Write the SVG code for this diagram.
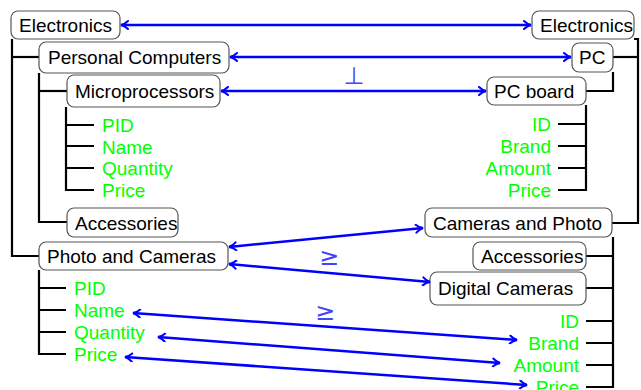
<svg xmlns="http://www.w3.org/2000/svg" width="641" height="390" viewBox="0 0 641 390">
  <defs>
    <marker id="tip" viewBox="0 0 10 10" refX="9" refY="5" markerWidth="10" markerHeight="10" markerUnits="userSpaceOnUse" orient="auto-start-reverse">
      <path d="M2,1 Q5,4 9,5 Q5,6 2,9" fill="none" stroke="#0000ff" stroke-width="2" stroke-linecap="round"/>
    </marker>
  </defs>
  <style>
    .box { fill: #ffffff; stroke: #555555; stroke-width: 1.2; }
    .lbl { font-family: "Liberation Sans", Arial, sans-serif; font-size: 19px; fill: #000000; }
    .attr { font-family: "Liberation Sans", Arial, sans-serif; font-size: 19px; fill: #00ff00; }
    .end { text-anchor: end; }
    .tree { fill: none; stroke: #000000; stroke-width: 2.2; }
    .link { fill: none; stroke: #0000ff; stroke-width: 2.5; marker-start: url(#tip); marker-end: url(#tip); }
    .rel { font-family: "DejaVu Sans", sans-serif; font-size: 24px; fill: #4444ff; text-anchor: middle; }
  </style>
  <rect width="641" height="390" fill="#ffffff"/>

  <!-- tree branches -->
  <g id="tree-lines" class="tree">
    <!-- left schema -->
    <path d="M12,39 V256 H39"/>
    <path d="M12,57 H39"/>
    <path d="M39,73 V222 H67"/>
    <path d="M39,91 H67"/>
    <path d="M66,107 V190 H94"/>
    <path d="M66,125 H94 M66,146 H94 M66,168 H94"/>
    <path d="M39,270 V354 H66"/>
    <path d="M39,288 H66 M39,310 H66 M39,332 H66"/>
    <!-- right schema -->
    <path d="M634,39 H638 V223 H612"/>
    <path d="M613,57 H638"/>
    <path d="M613,72 V91 H586"/>
    <path d="M586,105 V190 H558"/>
    <path d="M586,124 H558 M586,146 H558 M586,168 H558"/>
    <path d="M613,237 V388"/>
    <path d="M586,256 H613 M586,288 H613"/>
    <path d="M586,321 H613 M586,343 H613 M586,365 H613 M586,387 H613"/>
  </g>

  <!-- left schema nodes -->
  <g id="l-electronics"><rect class="box" x="11" y="11" width="109" height="28" rx="7"/><text class="lbl" x="19" y="32">Electronics</text></g>
  <g id="l-personal-computers"><rect class="box" x="39" y="42" width="190" height="31" rx="7"/><text class="lbl" x="48" y="64">Personal Computers</text></g>
  <g id="l-microprocessors"><rect class="box" x="67" y="75" width="153" height="32" rx="7"/><text class="lbl" x="75" y="98">Microprocessors</text></g>
  <g id="l-pid"><text class="attr" x="102" y="132">PID</text></g>
  <g id="l-name"><text class="attr" x="102" y="154">Name</text></g>
  <g id="l-quantity"><text class="attr" x="102" y="175">Quantity</text></g>
  <g id="l-price"><text class="attr" x="102" y="197">Price</text></g>
  <g id="l-accessories"><rect class="box" x="67" y="208" width="111" height="29" rx="7"/><text class="lbl" x="75" y="230">Accessories</text></g>
  <g id="l-photo-and-cameras"><rect class="box" x="39" y="242" width="189" height="28" rx="7"/><text class="lbl" x="47" y="263">Photo and Cameras</text></g>
  <g id="l-pid2"><text class="attr" x="74" y="295">PID</text></g>
  <g id="l-name2"><text class="attr" x="74" y="317">Name</text></g>
  <g id="l-quantity2"><text class="attr" x="74" y="339">Quantity</text></g>
  <g id="l-price2"><text class="attr" x="74" y="361">Price</text></g>

  <!-- right schema nodes -->
  <g id="r-electronics"><rect class="box" x="532" y="11" width="102" height="28" rx="7"/><text class="lbl" x="540" y="32">Electronics</text></g>
  <g id="r-pc"><rect class="box" x="572" y="43" width="41" height="29" rx="7"/><text class="lbl" x="579" y="64">PC</text></g>
  <g id="r-pc-board"><rect class="box" x="487" y="77" width="99" height="28" rx="7"/><text class="lbl" x="494" y="98">PC board</text></g>
  <g id="r-id"><text class="attr end" x="551" y="131">ID</text></g>
  <g id="r-brand"><text class="attr end" x="551" y="153">Brand</text></g>
  <g id="r-amount"><text class="attr end" x="551" y="175">Amount</text></g>
  <g id="r-price"><text class="attr end" x="551" y="197">Price</text></g>
  <g id="r-cameras-and-photo"><rect class="box" x="425" y="208" width="187" height="29" rx="7"/><text class="lbl" x="433" y="230">Cameras and Photo</text></g>
  <g id="r-accessories"><rect class="box" x="473" y="242" width="113" height="28" rx="7"/><text class="lbl" x="481" y="263">Accessories</text></g>
  <g id="r-digital-cameras"><rect class="box" x="430" y="272" width="156" height="33" rx="7"/><text class="lbl" x="438" y="295">Digital Cameras</text></g>
  <g id="r-id2"><text class="attr end" x="579" y="328">ID</text></g>
  <g id="r-brand2"><text class="attr end" x="579" y="350">Brand</text></g>
  <g id="r-amount2"><text class="attr end" x="579" y="372">Amount</text></g>
  <g id="r-price2"><text class="attr end" x="579" y="394">Price</text></g>

  <!-- correspondences -->
  <g id="connectors">
    <path class="link" d="M121,25 H531"/>
    <path class="link" d="M230,57 H571"/>
    <path class="link" d="M221,91 H486"/>
    <path class="link" d="M229,247 L423,228"/>
    <path class="link" d="M229,264 L430,282"/>
    <path class="link" d="M133,313 L517,340"/>
    <path class="link" d="M158,337 L500,363"/>
    <path class="link" d="M125,357 L527,385"/>
    <text class="rel" x="354" y="84">⊥</text>
    <text class="rel" x="329" y="265">≥</text>
    <text class="rel" x="325" y="320">≥</text>
  </g>
</svg>
